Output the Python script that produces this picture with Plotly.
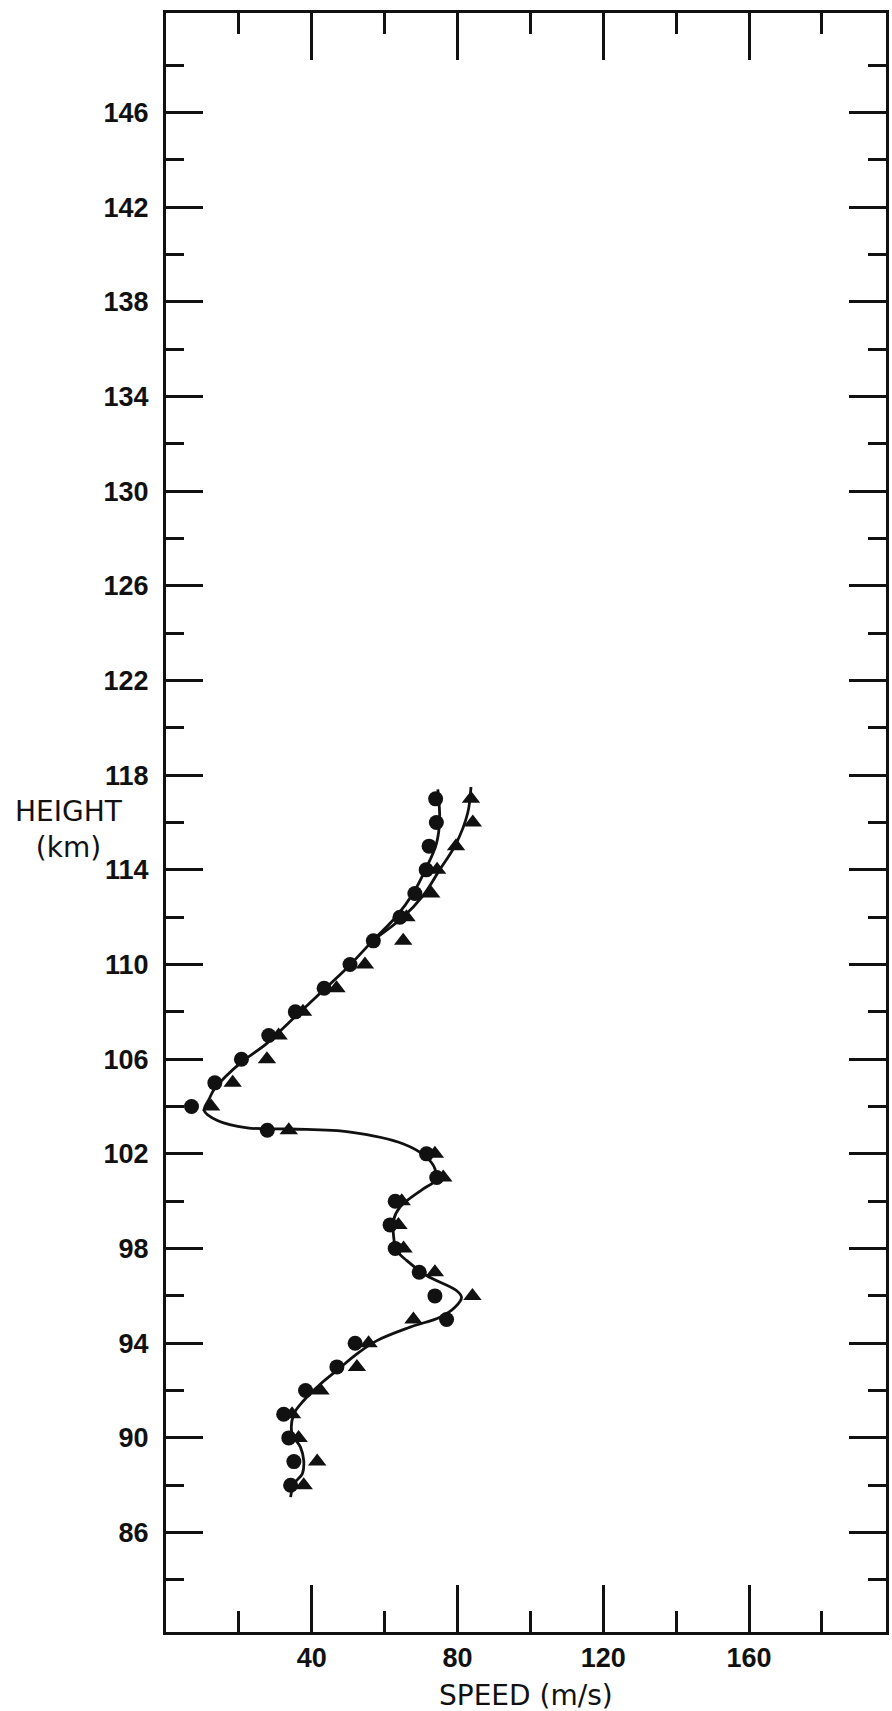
import plotly.graph_objects as go

# ---------------- data ----------------
heights = [117, 116, 115, 114, 113, 112, 111, 110, 109, 108, 107, 106, 105, 104, 103,
           102, 101, 100, 99, 98, 97, 96, 95, 94, 93, 92, 91, 90, 89, 88]

speed_circles = [74.0, 74.2, 72.2, 71.4, 68.3, 64.2, 56.9, 50.5, 43.4, 35.5, 28.2, 20.7, 13.4, 7.0, 27.8,
                 71.5, 74.3, 62.9, 61.5, 62.9, 69.5, 73.8, 77.0, 51.9, 46.9, 38.3, 32.3, 33.7, 35.1, 34.2]

speed_triangles = [83.7, 84.2, 79.6, 74.4, 72.8, 66.0, 65.1, 54.6, 46.8, 37.6, 30.9, 27.7, 18.3, 12.4, 33.7,
                   73.8, 76.1, 64.7, 63.8, 65.2, 73.8, 84.1, 67.9, 55.6, 52.4, 42.4, 34.6, 36.4, 41.5, 37.8]

# smooth fitted curve, common part (bottom up to ~111 km)
curve_common_h = [87.5, 88.06, 88.48, 89.04, 89.61, 90.17, 91.01, 91.58, 92.28, 92.85, 93.55, 94.11,
                  94.68, 95.10, 95.52, 95.94, 96.23, 96.86, 97.49, 97.92, 98.62, 99.18, 99.75, 100.52,
                  100.87, 101.37, 101.86, 102.42, 102.92, 103.05, 103.1, 103.41, 103.83, 104.3, 104.7,
                  105.26, 105.9, 106.67, 107.73, 108.79, 109.84, 111.04]
curve_common_s = [34.2, 35.1, 37.4, 37.8, 36.9, 34.6, 35.1, 37.8, 42.4, 46.9, 52.4, 57.9,
                  67.0, 75.2, 79.3, 81.1, 79.7, 71.5, 66.1, 63.3, 62.4, 62.4, 64.2, 70.6,
                  73.8, 73.8, 71.5, 65.2, 50.6, 34.2, 22.3, 14.1, 10.5, 11.8, 13.1,
                  16.3, 20.9, 27.7, 35.0, 42.3, 49.6, 56.9]

# upper branch through the circles
curve_circ_h = [111.04, 112.03, 113.0, 114.07, 115.1, 116.1, 117.4]
curve_circ_s = [56.9, 63.2, 67.8, 71.4, 74.2, 75.1, 74.6]

# upper branch through the triangles
curve_tri_h = [111.04, 112.0, 112.9, 114.0, 115.1, 116.4, 117.5]
curve_tri_s = [56.9, 65.0, 70.5, 75.1, 79.6, 82.8, 83.7]

x_major = [40, 80, 120, 160]
x_minor = [20, 60, 100, 140, 180]
y_major = [86, 90, 94, 98, 102, 106, 110, 114, 118, 122, 126, 130, 134, 138, 142, 146]
y_minor = [84, 88, 92, 96, 100, 104, 108, 112, 116, 120, 124, 128, 132, 136, 140, 144, 148]

INK = "#111111"

fig = go.Figure()

for xs, ys in [(curve_common_s, curve_common_h), (curve_circ_s, curve_circ_h), (curve_tri_s, curve_tri_h)]:
    fig.add_trace(go.Scatter(x=xs, y=ys, mode="lines",
                             line=dict(color=INK, width=2.8, shape="spline", smoothing=1.0),
                             hoverinfo="skip", showlegend=False))

fig.add_trace(go.Scatter(x=speed_triangles, y=heights, mode="markers",
                         marker=dict(symbol="triangle-up", size=16, color=INK),
                         showlegend=False))
fig.add_trace(go.Scatter(x=speed_circles, y=heights, mode="markers",
                         marker=dict(symbol="circle", size=15, color=INK),
                         showlegend=False))

tick_font = dict(family="Liberation Sans, Arial, sans-serif", size=27, color=INK, weight="bold")

fig.update_xaxes(range=[0, 197.6], showgrid=False, zeroline=False,
                 showline=True, linewidth=3, linecolor=INK, mirror="ticks",
                 tickmode="array", tickvals=x_major, ticktext=[str(v) for v in x_major],
                 ticks="inside", ticklen=47, tickwidth=3, tickcolor=INK,
                 tickfont=tick_font, ticklabelstandoff=0,
                 minor=dict(tickmode="array", tickvals=x_minor, ticks="inside",
                            ticklen=21, tickwidth=3, tickcolor=INK, showgrid=False))

fig.update_yaxes(range=[81.8, 150.2], showgrid=False, zeroline=False,
                 showline=True, linewidth=3, linecolor=INK, mirror="ticks",
                 tickmode="array", tickvals=y_major, ticktext=[str(v) for v in y_major],
                 ticks="inside", ticklen=37, tickwidth=3, tickcolor=INK,
                 tickfont=tick_font, ticklabelstandoff=9,
                 minor=dict(tickmode="array", tickvals=y_minor, ticks="inside",
                            ticklen=18, tickwidth=3, tickcolor=INK, showgrid=False))

title_font = dict(family="DejaVu Sans, sans-serif", size=28, color=INK)

fig.add_annotation(text="SPEED (m/s)", xref="paper", yref="paper", x=0.5, y=-0.0395,
                   xanchor="center", yanchor="middle", showarrow=False, font=title_font)
fig.add_annotation(text="HEIGHT<br>(km)", xref="paper", yref="paper", x=-0.1354, y=0.4954,
                   xanchor="center", yanchor="middle", showarrow=False, font=title_font,
                   align="center")

fig.update_layout(width=892, height=1711,
                  margin=dict(l=166, r=3, t=13, b=79),
                  paper_bgcolor="white", plot_bgcolor="white")

fig.write_html("out.html", config={"displayModeBar": False},
               post_script="document.body.style.margin='0';document.body.style.overflow='hidden';")
